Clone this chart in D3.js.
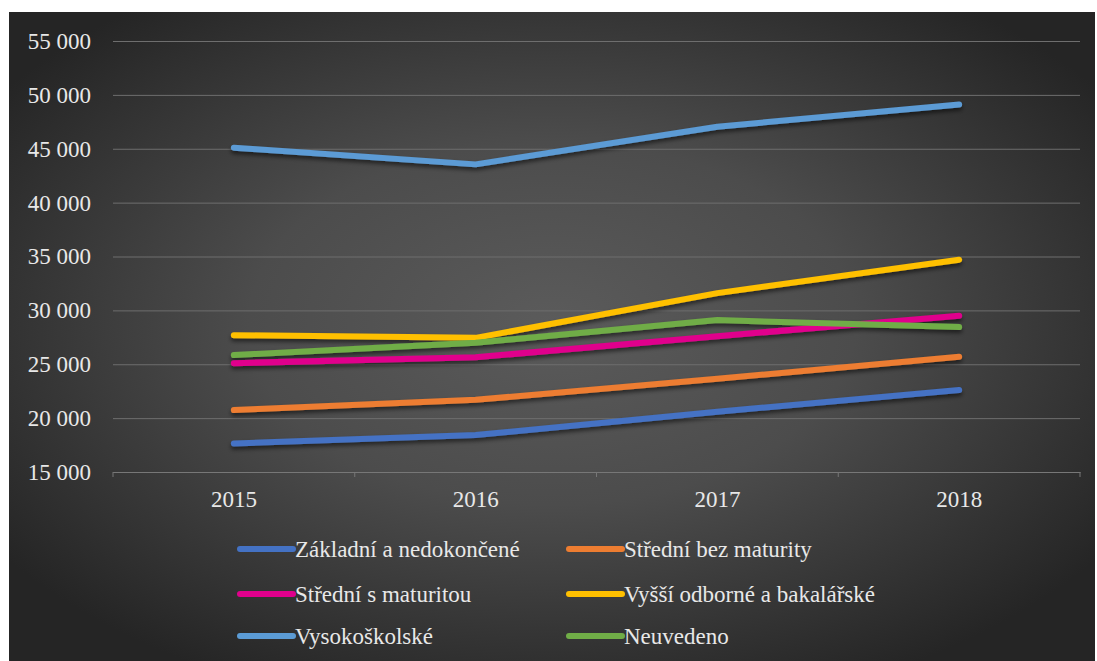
<!DOCTYPE html>
<html>
<head>
<meta charset="utf-8">
<script src="https://cdn.jsdelivr.net/npm/d3@7/dist/d3.min.js"></script>
<style>
html,body{margin:0;padding:0;background:#fff;}
svg{display:block;}
</style>
</head>
<body>
<svg id="chart" width="1097" height="661"></svg>
<script>
const years = ["2015", "2016", "2017", "2018"];
const seriesNames = [
  "Základní a nedokončené",
  "Střední bez maturity",
  "Střední s maturitou",
  "Vyšší odborné a bakalářské",
  "Vysokoškolské",
  "Neuvedeno"
];
const zakladni = [17650, 18430, 20600, 22600];
const stredniBez = [20750, 21700, 23650, 25700];
const stredniS = [25100, 25650, 27600, 29500];
const vyssi = [27700, 27450, 31600, 34700];
const vysoko = [45100, 43550, 47050, 49100];
const neuvedeno = [25850, 27000, 29100, 28450];
const colors = ["#4472C4", "#ED7D31", "#E0008C", "#FFC000", "#5B9BD5", "#70AD47"];
const yTicks = [15000, 20000, 25000, 30000, 35000, 40000, 45000, 50000, 55000];

const allSeries = [zakladni, stredniBez, stredniS, vyssi, vysoko, neuvedeno];

(function () {
const FONT = "Liberation Serif, Times New Roman, Tinos, DejaVu Serif, serif";
const FS = 23;
const svg = d3.select("#chart");
const defs = svg.append("defs");
const grad = defs.append("radialGradient").attr("id", "bg")
  .attr("cx", "50%").attr("cy", "48%").attr("r", "62%");
grad.append("stop").attr("offset", "0%").attr("stop-color", "#5b5b5b");
grad.append("stop").attr("offset", "45%").attr("stop-color", "#4c4c4c");
grad.append("stop").attr("offset", "100%").attr("stop-color", "#252525");

const filt = defs.append("filter").attr("id", "shadow")
  .attr("x", "-5%").attr("y", "-50%").attr("width", "110%").attr("height", "200%");
filt.append("feDropShadow").attr("dx", 0).attr("dy", 3).attr("stdDeviation", 2.2)
  .attr("flood-color", "#000").attr("flood-opacity", 0.55);

svg.append("rect").attr("x", 9).attr("y", 12).attr("width", 1086).attr("height", 649)
  .attr("fill", "url(#bg)");

const mLeft = 113, mRight = 1080, mTop = 41, mBottom = 472;
const x = d3.scaleBand().domain(years).range([mLeft, mRight]);
const y = d3.scaleLinear().domain([15000, 55000]).range([mBottom, mTop]);

// gridlines
const grid = svg.append("g")
  .attr("transform", `translate(${mLeft},0)`)
  .call(d3.axisLeft(y).tickValues(yTicks).tickSize(-(mRight - mLeft)).tickFormat(""));
grid.select(".domain").remove();
grid.selectAll("line").attr("stroke", "#6e6e6e").attr("stroke-width", 1);

// y labels
const fmt = v => d3.format(",")(v).replace(/,/g, " ");
const yAxis = svg.append("g")
  .attr("transform", `translate(${mLeft},0)`)
  .call(d3.axisLeft(y).tickValues(yTicks).tickSize(0).tickPadding(22).tickFormat(fmt));
yAxis.select(".domain").remove();
yAxis.attr("font-family", FONT).attr("font-size", FS);
yAxis.selectAll("text").attr("fill", "#e8e8e8");

// x axis
const xAxis = svg.append("g")
  .attr("transform", `translate(0,${mBottom})`)
  .call(d3.axisBottom(x).tickSize(0).tickPadding(19));
xAxis.attr("font-family", FONT).attr("font-size", FS);
xAxis.select(".domain").attr("stroke", "#777").attr("stroke-width", 1);
xAxis.selectAll("text").attr("fill", "#e8e8e8");
// band boundary ticks
const bounds = years.map(d => x(d)).concat([x(years[years.length - 1]) + x.bandwidth()]);
svg.append("g").selectAll("line").data(bounds).join("line")
  .attr("x1", d => d).attr("x2", d => d)
  .attr("y1", mBottom).attr("y2", mBottom + 5)
  .attr("stroke", "#777").attr("stroke-width", 1);

// lines
const line = d3.line()
  .x((d, i) => x(years[i]) + x.bandwidth() / 2)
  .y(d => y(d));
svg.append("g").attr("filter", "url(#shadow)")
  .selectAll("path").data(allSeries).join("path")
  .attr("d", d => line(d))
  .attr("fill", "none")
  .attr("stroke", (d, i) => colors[i])
  .attr("stroke-width", 6)
  .attr("stroke-linecap", "round")
  .attr("stroke-linejoin", "round");

// legend
const legendPos = [
  [237, 549], [566, 549],
  [237, 594], [566, 594],
  [237, 636], [566, 636]
];
const lg = svg.append("g").attr("font-family", FONT).attr("font-size", FS);
seriesNames.forEach((name, i) => {
  const [lx, ly] = legendPos[i];
  lg.append("line")
    .attr("x1", lx + 3).attr("x2", lx + 56)
    .attr("y1", ly).attr("y2", ly)
    .attr("stroke", colors[i]).attr("stroke-width", 6)
    .attr("stroke-linecap", "round");
  lg.append("text")
    .attr("x", lx + 58).attr("y", ly + 8)
    .attr("fill", "#e8e8e8")
    .text(name);
});
})();
</script>
</body>
</html>
